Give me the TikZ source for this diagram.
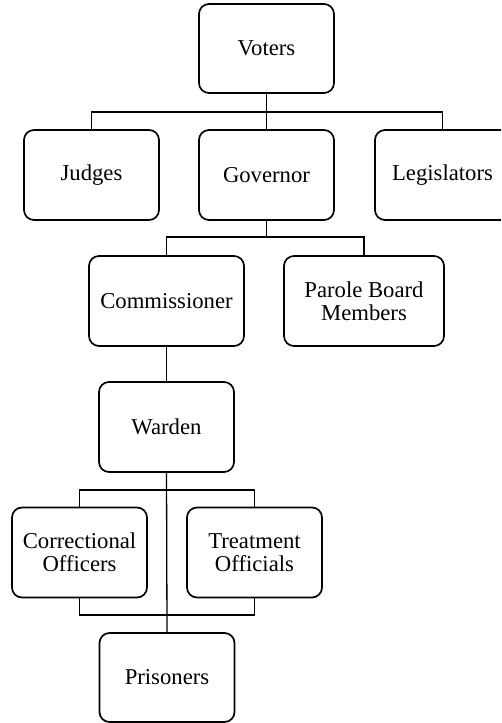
\documentclass[tikz,border=0pt]{standalone}
\usepackage{fontspec}
\setmainfont{Liberation Serif}
\begin{document}
\begin{tikzpicture}[x=1pt,y=-1pt,
  box/.style={draw=black,line width=1.7pt,rounded corners=10pt,fill=white,
    minimum width=135pt,minimum height=90pt,align=center,inner sep=0pt,
    font=\fontsize{22.7}{23}\selectfont},
  link/.style={draw=black,line width=1.3pt}]
\useasboundingbox (0,0) rectangle (501,723);
\begin{scope}
\clip (0,0) rectangle (501,723);
\node[box,minimum height=89pt] (voters) at (266.5,48.5) {Voters};
\node[box] (judges) at (91.5,175) {Judges};
\node[box] (gov) at (266.5,175) {Governor};
\node[box] (legis) at (442.5,175) {Legislators};
\node[box,minimum width=155pt] (comm) at (166.5,301) {Commissioner};
\node[box,minimum width=160pt] (parole) at (364,301) {Parole Board\\Members};
\node[box] (warden) at (166.5,427) {Warden};
\node[box] (corr) at (79.5,552.5) {Correctional\\Officers};
\node[box] (treat) at (254.5,552.5) {Treatment\\Officials};
\node[box,minimum height=89pt] (pris) at (167,677.5) {Prisoners};
\coordinate (b1) at (266.5,112);
\coordinate (b2) at (266.5,237);
\coordinate (b3) at (167,490);
\coordinate (b4) at (167,615);
\draw[link] (voters.south) -- (b1);
\draw[link] (judges.north) |- (b1) -| (legis.north);
\draw[link] (b1) -- (gov.north);
\draw[link] (gov.south) -- (b2);
\draw[link] (comm.north) |- (b2) -| (parole.north);
\draw[link] (comm.south) -- (warden.north);
\draw[link] (warden.south) -- (pris.north);
\draw[link] (corr.north) |- (b3) -| (treat.north);
\draw[link] (corr.south) |- (b4) -| (treat.south);
\end{scope}
\end{tikzpicture}
\end{document}
